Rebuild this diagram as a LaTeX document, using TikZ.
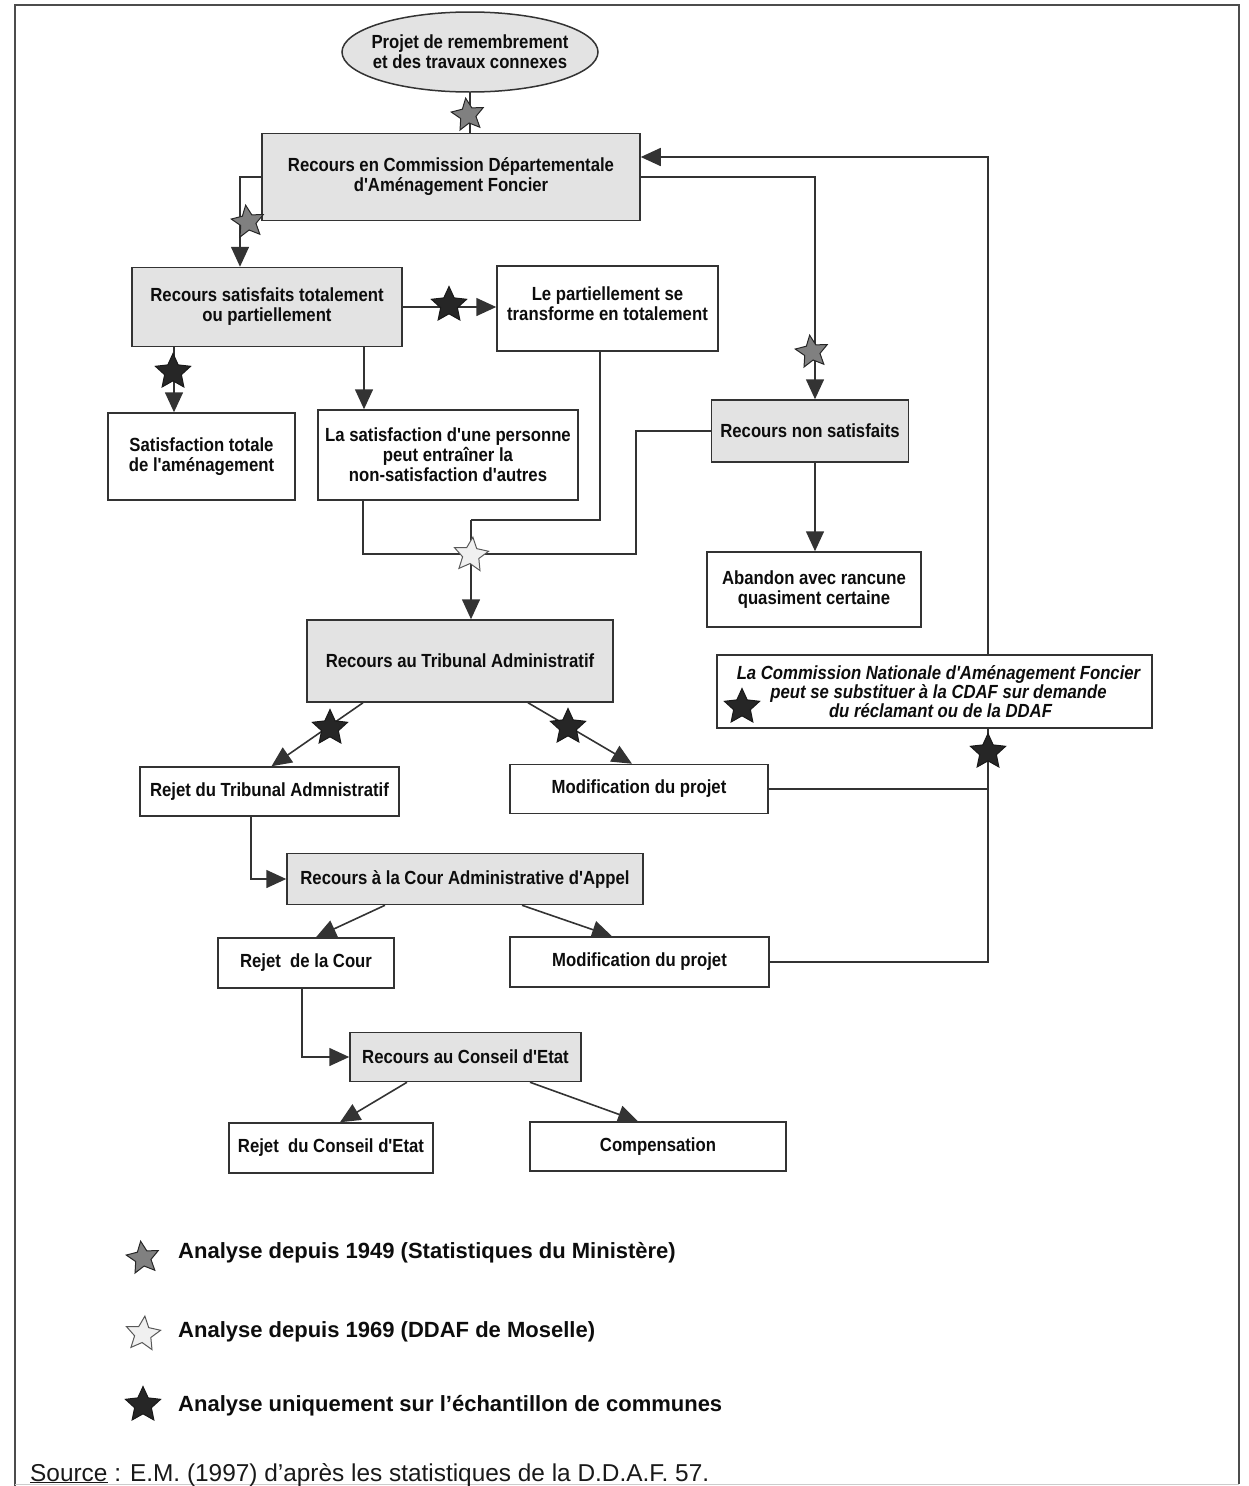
\documentclass[tikz,border=0pt]{standalone}
\usepackage{fontspec}
\setmainfont{Liberation Sans}
\newfontfamily\boxfont[FakeStretch=0.88]{Liberation Sans}
\usetikzlibrary{shapes.geometric,arrows.meta,calc}
\pgfdeclarelayer{bg}
\pgfsetlayers{bg,main}
\tikzset{
 lbl/.style={font={\boxfont\bfseries\fontsize{19}{20}\selectfont}, align=center, inner sep=0pt, text=black!95},
 plain/.style={lbl, draw=black!80, line width=1.5pt, fill=white},
 shadebox/.style={plain, fill=black!11},
 conn/.style={draw=black!80, line width=1.6pt},
 arr/.style={conn, -{Triangle[length=20pt,width=18pt]}},
 starbase/.style={star, star points=5, star point ratio=2.1, inner sep=0pt, minimum size=#1, line width=1pt},
 gstar/.style={starbase=34pt, draw=black!85, fill=black!50, rotate=8},
 wstar/.style={starbase=36pt, draw=black!65, fill=black!6, rotate=-6},
 bstar/.style={starbase=37pt, draw=black!90, fill=black!85},
 legtext/.style={anchor=west, inner sep=0pt, font={\bfseries\fontsize{22}{26}\selectfont}, text=black!95},
}
\begin{document}
\begin{tikzpicture}[x=1pt,y=-1pt]
\useasboundingbox (0,0) rectangle (1249,1486);
% frame
\draw[black!70, line width=2pt] (15,1486) -- (15,5) -- (1239,5) -- (1239,1484);
\draw[black!20, line width=1pt] (15,1484) -- (1239,1484);

% nodes
\node[lbl, ellipse, draw=black!80, line width=1.5pt, fill=black!11, minimum width=256pt, minimum height=80pt, inner xsep=-45pt, inner ysep=-12pt] (proj) at (470,52) {Projet de remembrement\\et des travaux connexes};
\node[shadebox, minimum width=378pt, minimum height=87pt] (cdaf) at (451,177) {Recours en Commission Départementale\\d'Aménagement Foncier};
\node[shadebox, minimum width=270pt, minimum height=79pt] (rsat) at (267,307) {Recours satisfaits totalement\\ou partiellement};
\node[plain, minimum width=221pt, minimum height=85pt] (part) at (607.5,308.5) {Le partiellement se\\transforme en totalement\\[-10pt]};
\node[plain, minimum width=187pt, minimum height=87pt] (sattot) at (201.5,456.5) {Satisfaction totale\\de l'aménagement};
\node[plain, minimum width=260pt, minimum height=90pt] (lasat) at (448,455) {La satisfaction d'une personne\\peut entraîner la\\non-satisfaction d'autres};
\node[shadebox, minimum width=197pt, minimum height=62pt] (nsat) at (810,431) {Recours non satisfaits};
\node[plain, minimum width=214pt, minimum height=75pt] (aband) at (814,589.5) {Abandon avec rancune\\quasiment certaine};
\node[shadebox, minimum width=306pt, minimum height=82pt] (tri) at (460,661) {Recours au Tribunal Administratif};
\node[plain, minimum width=435pt, minimum height=73pt, font={\boxfont\bfseries\itshape\fontsize{19}{19}\selectfont}] (cnaf) at (934.5,691.5) {\hspace*{8pt}La Commission Nationale d'Aménagement Foncier\\\hspace*{8pt}peut se substituer à la CDAF sur demande\\\hspace*{12pt}du réclamant ou de la DDAF};
\node[plain, minimum width=259pt, minimum height=49pt] (rejtri) at (269.5,791.5) {Rejet du Tribunal Admnistratif};
\node[plain, minimum width=258pt, minimum height=49pt] (mod1) at (639,789) {Modification du projet};
\node[shadebox, minimum width=356pt, minimum height=51pt] (cour) at (465,879) {Recours à la Cour Administrative d'Appel};
\node[plain, minimum width=176pt, minimum height=50pt] (rejcour) at (306,963) {Rejet\ \ de la Cour};
\node[plain, minimum width=259pt, minimum height=50pt] (mod2) at (639.5,962) {Modification du projet};
\node[shadebox, minimum width=231pt, minimum height=49pt] (ce) at (465.5,1057) {Recours au Conseil d'Etat};
\node[plain, minimum width=204pt, minimum height=50pt] (rejce) at (331,1148) {Rejet\ \ du Conseil d'Etat};
\node[plain, minimum width=256pt, minimum height=49pt] (comp) at (658,1146.5) {Compensation};

\coordinate (loop) at (988,157);
\coordinate (m1) at (471,520);
\coordinate (m2) at (636,554);

% connectors
\begin{pgfonlayer}{bg}
\draw[conn] (proj.south) -- (proj.south |- cdaf.north);
\draw[arr] (cdaf.west) -| ([xshift=-27pt]rsat.north);
\draw[arr] (cdaf.east) -| ([xshift=5pt]nsat.north);
\draw[arr] (rsat.east) -- (rsat.east -| part.west);
\draw[arr] ([xshift=-93pt]rsat.south) -- ([xshift=-93pt]rsat.south |- sattot.north);
\draw[arr] ([xshift=97pt]rsat.south) -- ([xshift=97pt]rsat.south |- lasat.north);
\draw[conn] ([xshift=-7.5pt]part.south) |- (m1);
\draw[arr] (m1) -- (m1 |- tri.north);
\draw[conn] ([xshift=-85pt]lasat.south) |- (m2) |- (nsat.west);
\draw[arr] ([xshift=5pt]nsat.south) -- ([xshift=5pt]nsat.south |- aband.north);
\draw[arr] ([xshift=-97pt]tri.south) -- ([xshift=2pt]rejtri.north);
\draw[arr] ([xshift=68pt]tri.south) -- ([xshift=-7pt]mod1.north);
\draw[conn] (mod1.east) -- (mod1.east -| loop);
\draw[arr] (mod2.east) -| (loop) -- (loop -| cdaf.east);
\draw[arr] ([xshift=-18.5pt]rejtri.south) |- (cour.west);
\draw[arr] ([xshift=-80pt]cour.south) -- ([xshift=10pt]rejcour.north);
\draw[arr] ([xshift=57pt]cour.south) -- ([xshift=-27.5pt]mod2.north);
\draw[arr] ([xshift=-4pt]rejcour.south) |- (ce.west);
\draw[arr] ([xshift=-58.5pt]ce.south) -- ([xshift=9pt]rejce.north);
\draw[arr] ([xshift=64.5pt]ce.south) -- ([xshift=-20pt]comp.north);
\end{pgfonlayer}

% stars on connectors
\node[gstar] (sA) at (468,115) {};
\node[gstar] (sB) at (248,222) {};
\node[gstar] (sC) at (812,352) {};
\node[bstar] (sD) at (449,305) {};
\node[bstar] (sE) at (173,372) {};
\node[wstar] (sF) at (471,555) {};
\node[bstar] (sG) at (330,728) {};
\node[bstar] (sH) at (568,727) {};
\node[bstar] (sI) at (742,707) {};
\node[bstar] (sJ) at (988,752) {};

% legend
\node[gstar] (lg1) at (143,1258) {};
\node[wstar] (lg2) at (143,1334) {};
\node[bstar] (lg3) at (143,1405) {};
\node[legtext] (lt1) at (178,1253) {Analyse depuis 1949 (Statistiques du Ministère)};
\node[legtext] (lt2) at (178,1332) {Analyse depuis 1969 (DDAF de Moselle)};
\node[legtext] (lt3) at (178,1406) {Analyse uniquement sur l'échantillon de communes};

\node[anchor=base west, inner sep=0pt, font={\fontsize{24.4}{28}\selectfont}, text=black!90] (src) at (30,1481) {\underline{Source} : E.M. (1997) d'après les statistiques de la D.D.A.F. 57.};
\end{tikzpicture}
\end{document}
